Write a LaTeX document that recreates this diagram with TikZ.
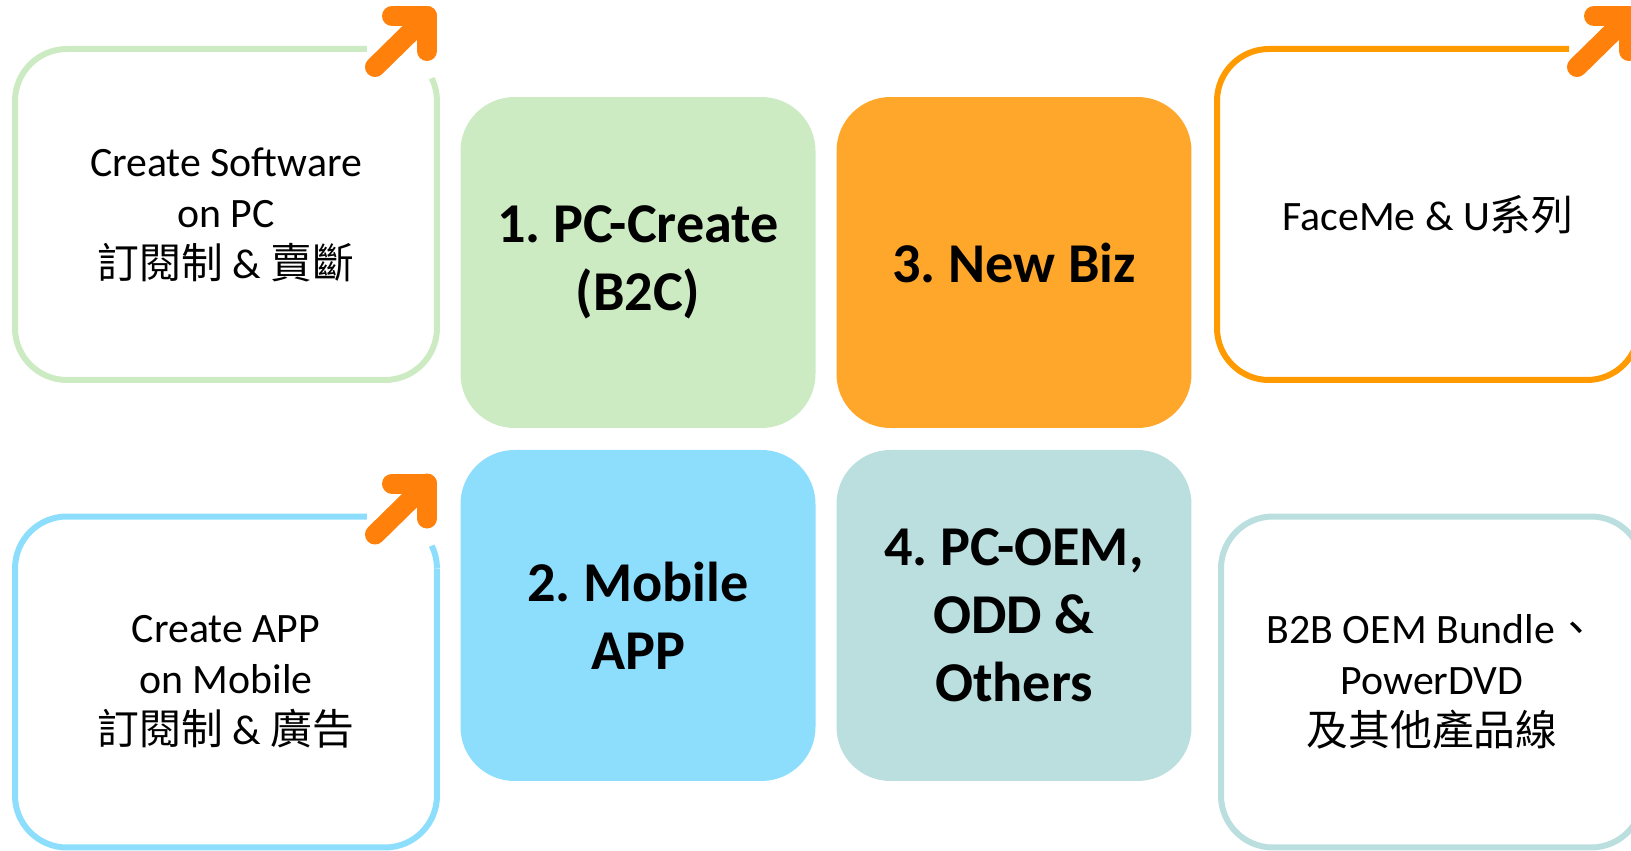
\documentclass[tikz,border=0pt]{standalone}
\usepackage{fontspec}
\setmainfont{Carlito}
\newfontfamily\cjk{Noto Sans CJK TC}
\usetikzlibrary{positioning}
\frenchspacing

\definecolor{pcgreen}{HTML}{CDEBC3}
\definecolor{bizorange}{HTML}{FFA72A}
\definecolor{mobileblue}{HTML}{8CDEFC}
\definecolor{oemteal}{HTML}{BBDFDF}
\definecolor{lineorange}{HTML}{FF9A00}
\definecolor{arroworange}{HTML}{FF800A}

\begin{document}
\begin{tikzpicture}[
        x=0.1mm, y=0.1mm,
        segment/.style={rectangle, rounded corners=5.4mm, minimum width=35.5mm, minimum height=33.1mm, inner sep=0pt, outer sep=0pt, align=center, font=\bfseries\fontsize{16}{19.3}\selectfont},
        product/.style={rectangle, minimum width=42.2mm, minimum height=33.1mm, inner sep=0pt, outer sep=0pt, align=center, font=\fontsize{11.9}{14.5}\selectfont},
        product frame/.style={line width=0.6mm, rounded corners=5.2mm},
        growth arrow/.style={arroworange, line width=2mm, line cap=round, line join=round}
    ]
        \useasboundingbox (0,0) rectangle (1631,850);

        % Business segments (centre grid)
        \node[segment, fill=pcgreen] (pccreate) at (638,587.5) {1. PC-Create\\(B2C)};
        \node[segment, fill=bizorange, right=2.1mm of pccreate] (newbiz) {3. New Biz};
        \node[segment, fill=mobileblue, below=2.2mm of pccreate] (mobile) {2. Mobile\\APP};
        \node[segment, fill=oemteal, right=2.1mm of mobile] (pcoem) {4. PC-OEM,\\ODD \&\\Others};

        % Product lines
        \node[product] (pcsoft) at (226,635.5) {Create Software\\on PC\\{\cjk 訂閱制} \& {\cjk 賣斷}};
        \node[product] (mobapp) at (226,168) {Create APP\\on Mobile\\{\cjk 訂閱制} \& {\cjk 廣告}};
        \node[product] (faceme) at (1428,635.5) {FaceMe \& U{\cjk 系列}};
        \node[product, draw=oemteal, product frame] (bundle) at (1432,168) {B2B OEM Bundle{\cjk 、}\\PowerDVD\\{\cjk 及其他產品線}};

        % Frames with a gap for the growth arrow
        \foreach \name/\col in {pcsoft/pcgreen, mobapp/mobileblue, faceme/lineorange}
        {
            \draw[product frame, \col] ([xshift=-7mm]\name.north east) -- (\name.north west) -- (\name.south west) -- (\name.south east) -- ([yshift=-5.2mm]\name.north east);
            \draw[line width=0.6mm, \col] ([yshift=-5.2mm]\name.north east) arc[start angle=0, end angle=26, radius=5.2mm];
            \coordinate (\name-tail) at ([shift={(-62,-18)}]\name.north east);
            \coordinate (\name-tip) at ([shift={(-10,33)}]\name.north east);
            \draw[growth arrow] (\name-tail) -- (\name-tip);
            \draw[growth arrow] ([shift={(-35,0)}]\name-tip) -- (\name-tip) -- ([shift={(0,-35)}]\name-tip);
        }

    \end{tikzpicture}
\end{document}
